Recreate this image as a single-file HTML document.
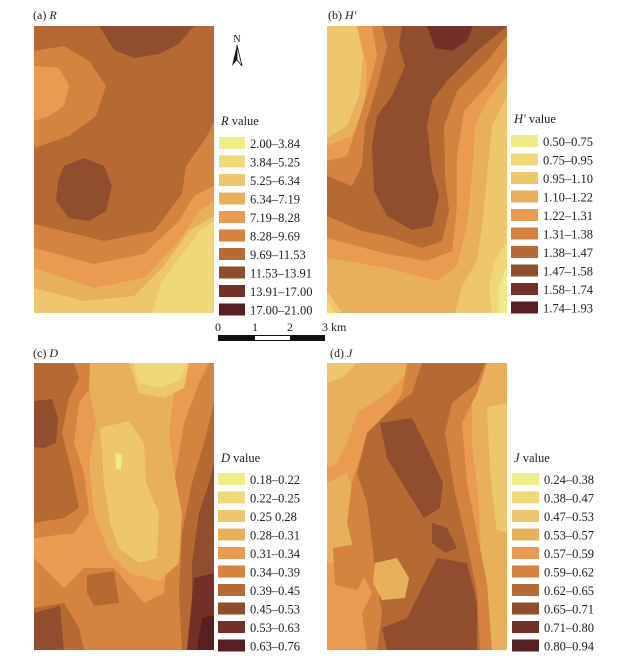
<!DOCTYPE html>
<html><head><meta charset="utf-8"><style>
html,body{margin:0;padding:0;background:#fff;}
svg{display:block;font-family:"Liberation Serif",serif;}
</style></head><body>
<svg width="635" height="661" viewBox="0 0 635 661" xmlns="http://www.w3.org/2000/svg">
<defs>
<clipPath id="cp"><rect x="0" y="0" width="180" height="287"/></clipPath>
</defs>
<g stroke-linejoin="round">
<!-- (a) -->
<g transform="translate(34,26)" clip-path="url(#cp)">
<rect width="180" height="287" fill="#b46a32"/>
<path fill="#d5843f" d="M0,25 L30,20 L55,35 L72,60 L62,90 L35,110 L0,122Z"/>
<path fill="#e99c50" d="M0,40 L25,42 L35,60 L30,80 L15,90 L0,95Z"/>
<path fill="#914e2e" d="M65,0 L160,0 L145,18 L125,28 L100,32 L80,24Z"/>
<path fill="#d5843f" d="M0,198 L70,215 L120,205 L148,168 L152,140 L172,112 L180,95 L180,287 L0,287Z"/>
<path fill="#e99c50" d="M0,222 L60,238 L110,228 L145,195 L160,170 L180,160 L180,287 L0,287Z"/>
<path fill="#e9b05c" d="M0,242 L60,262 L110,252 L145,215 L165,185 L180,175 L180,287 L0,287Z"/>
<path fill="#eec66c" d="M0,262 L50,275 L100,270 L130,240 L155,205 L180,190 L180,287 L0,287Z"/>
<path fill="#eed878" d="M118,287 L128,255 L148,228 L165,205 L180,195 L180,287Z"/>
<path fill="#914e2e" d="M30,140 L50,132 L70,140 L78,160 L72,185 L55,195 L35,192 L22,175 L24,155Z"/>
</g>
<!-- (b) -->
<g transform="translate(327,26)" clip-path="url(#cp)">
<rect width="180" height="287" fill="#e9b05c"/>
<path fill="#eec66c" d="M0,0 L30,0 L36,30 L32,70 L20,100 L0,112Z"/>
<path fill="#e99c50" d="M30,0 L180,0 L180,50 L160,75 L148,100 L145,150 L140,200 L130,240 L110,255 L60,242 L0,232 L0,120 L25,110 L38,80 L40,40Z"/>
<path fill="#d5843f" d="M45,0 L180,0 L180,30 L160,60 L137,85 L130,130 L130,180 L125,225 L100,235 L60,228 L0,212 L0,135 L20,130 L30,100 L42,60 L50,30Z"/>
<path fill="#b46a32" d="M55,0 L180,0 L180,10 L160,35 L130,65 L117,100 L118,150 L122,185 L115,215 L95,222 L60,210 L35,205 L0,190 L0,150 L25,160 L35,140 L38,100 L50,60 L60,20Z"/>
<path fill="#914e2e" d="M75,0 L180,0 L150,25 L120,55 L105,75 L100,100 L105,145 L112,170 L105,200 L85,204 L60,190 L47,165 L45,120 L50,90 L65,70 L78,40 L72,20Z"/>
<path fill="#723028" d="M100,0 L146,0 L140,15 L125,25 L108,22Z"/>
<path fill="#eec66c" d="M180,70 L165,100 L160,150 L155,200 L150,235 L135,260 L128,287 L180,287Z"/>
<path fill="#eec66c" d="M0,265 L15,287 L0,287Z"/>
<path fill="#eed878" d="M0,275 L8,287 L0,287Z"/>
<path fill="#eed878" d="M180,215 L168,235 L162,260 L165,287 L180,287Z"/>
<path fill="#eeec88" d="M180,240 L172,260 L172,287 L180,287Z"/>
</g>
<!-- (c) -->
<g transform="translate(34,363)" clip-path="url(#cp)">
<rect width="180" height="287" fill="#e99c50"/>
<path fill="#d5843f" d="M0,0 L60,0 L60,20 L45,40 L40,80 L50,110 L55,150 L40,170 L0,175Z"/>
<path fill="#b46a32" d="M0,0 L40,0 L45,15 L35,35 L28,70 L38,110 L45,145 L30,155 L0,160Z"/>
<path fill="#914e2e" d="M0,38 L18,36 L24,55 L22,80 L10,85 L0,84Z"/>
<path fill="#d5843f" d="M0,195 L30,225 L50,205 L80,205 L110,240 L130,230 L135,170 L140,120 L150,60 L165,20 L175,0 L180,0 L180,287 L0,287Z"/>
<path fill="#b46a32" d="M148,287 L145,230 L148,170 L158,120 L170,80 L180,40 L180,287Z M53,212 L80,208 L85,240 L60,243 L53,230Z M0,245 L30,240 L45,265 L50,287 L0,287Z"/>
<path fill="#914e2e" d="M0,250 L26,243 L30,287 L0,287Z M158,287 L158,200 L165,150 L175,120 L180,100 L180,287Z"/>
<path fill="#723028" d="M153,287 L160,215 L180,210 L180,287Z"/>
<path fill="#582022" d="M163,287 L168,255 L180,252 L180,287Z"/>
<path fill="#e9b05c" d="M56,0 L146,0 L140,30 L135,70 L140,110 L148,150 L145,200 L125,218 L95,210 L75,190 L60,150 L55,100 L62,60 L55,25Z"/>
<path fill="#eec66c" d="M66,65 L95,58 L110,80 L112,120 L125,150 L123,195 L105,200 L85,185 L76,160 L70,120 L68,90Z"/>
<path fill="#eec66c" d="M95,0 L155,0 L150,25 L130,35 L105,30Z"/>
<path fill="#eed878" d="M99,0 L153,0 L145,18 L125,25 L105,20Z"/>
<path fill="#eeec88" d="M81,90 L88,92 L87,107 L82,105Z"/>
</g>
<!-- (d) -->
<g transform="translate(327,363)" clip-path="url(#cp)">
<rect width="180" height="287" fill="#e99c50"/>
<path fill="#e9b05c" d="M0,0 L90,0 L60,30 L30,50 L20,80 L10,100 L0,105Z M0,120 L20,110 L30,140 L45,170 L60,200 L0,200Z"/>
<path fill="#eec66c" d="M0,0 L30,0 L15,15 L0,20Z"/>
<path fill="#e9b05c" d="M150,0 L180,0 L180,287 L160,287 L155,220 L152,140 L145,80 L145,40Z"/>
<path fill="#eec66c" d="M160,44 L180,40 L180,170 L170,167 L165,130 L162,90Z"/>
<path fill="#d5843f" d="M80,0 L160,0 L150,30 L135,60 L140,120 L150,170 L160,220 L165,287 L40,287 L35,250 L45,230 L30,200 L20,160 L25,120 L35,90 L55,60 L75,30Z"/>
<path fill="#b46a32" d="M95,0 L158,0 L150,20 L125,40 L118,70 L128,130 L140,180 L150,230 L153,287 L50,287 L55,250 L50,220 L45,180 L40,140 L30,110 L40,70 L65,45 L85,30Z"/>
<path fill="#914e2e" d="M53,60 L85,55 L100,85 L116,120 L113,145 L97,155 L75,120 L60,95Z M105,160 L120,165 L130,185 L118,190 L105,180Z M60,287 L55,265 L80,255 L95,225 L110,195 L140,200 L150,240 L150,287Z"/>
<path fill="#e9b05c" d="M48,200 L70,195 L82,215 L78,235 L55,237 L46,220Z"/>
<path fill="#d5843f" d="M6,185 L35,180 L40,210 L30,227 L8,222Z"/>
</g>
</g>
<g font-size="12" fill="#222">
<text x="33" y="19">(a) <tspan font-style="italic">R</tspan></text>
<text x="328" y="19">(b) <tspan font-style="italic">H′</tspan></text>
<text x="33" y="357">(c) <tspan font-style="italic">D</tspan></text>
<text x="330" y="357">(d) <tspan font-style="italic">J</tspan></text>
</g>
<text x="237" y="42" font-size="10" text-anchor="middle" fill="#222">N</text>
<path d="M237,45 L232,66 L237,60Z" fill="#111"/><path d="M237,45 L242,66 L237,60Z" fill="#fff" stroke="#111" stroke-width="0.8"/>
<g font-size="12" fill="#222">
<text x="218" y="331" text-anchor="middle">0</text>
<text x="255" y="331" text-anchor="middle">1</text>
<text x="290" y="331" text-anchor="middle">2</text>
<text x="322" y="331">3 km</text>
</g>
<rect x="218" y="335" width="107" height="6" fill="#111"/>
<rect x="255" y="336" width="35" height="4" fill="#fff"/>
<g font-size="12.5" fill="#222">
<text x="221" y="125"><tspan font-style="italic">R</tspan> value</text>
<text x="514" y="123"><tspan font-style="italic">H′</tspan> value</text>
<text x="221" y="462"><tspan font-style="italic">D</tspan> value</text>
<text x="514" y="462"><tspan font-style="italic">J</tspan> value</text>
</g>
<g font-size="12.5" fill="#222">
<rect x="219" y="137" width="26" height="12" fill="#eeec88"/><text x="250" y="148">2.00–3.84</text>
<rect x="219" y="155.5" width="26" height="12" fill="#eed878"/><text x="250" y="166.5">3.84–5.25</text>
<rect x="219" y="174" width="26" height="12" fill="#eec66c"/><text x="250" y="185">5.25–6.34</text>
<rect x="219" y="192.5" width="26" height="12" fill="#e9b05c"/><text x="250" y="203.5">6.34–7.19</text>
<rect x="219" y="211" width="26" height="12" fill="#e99c50"/><text x="250" y="222">7.19–8.28</text>
<rect x="219" y="229.5" width="26" height="12" fill="#d5843f"/><text x="250" y="240.5">8.28–9.69</text>
<rect x="219" y="248" width="26" height="12" fill="#b46a32"/><text x="250" y="259">9.69–11.53</text>
<rect x="219" y="266.5" width="26" height="12" fill="#914e2e"/><text x="250" y="277.5">11.53–13.91</text>
<rect x="219" y="285" width="26" height="12" fill="#723028"/><text x="250" y="296">13.91–17.00</text>
<rect x="219" y="303.5" width="26" height="12" fill="#582022"/><text x="250" y="314.5">17.00–21.00</text>
<rect x="511" y="135" width="27" height="12" fill="#eeec88"/><text x="543" y="146">0.50–0.75</text>
<rect x="511" y="153.5" width="27" height="12" fill="#eed878"/><text x="543" y="164.5">0.75–0.95</text>
<rect x="511" y="172" width="27" height="12" fill="#eec66c"/><text x="543" y="183">0.95–1.10</text>
<rect x="511" y="190.5" width="27" height="12" fill="#e9b05c"/><text x="543" y="201.5">1.10–1.22</text>
<rect x="511" y="209" width="27" height="12" fill="#e99c50"/><text x="543" y="220">1.22–1.31</text>
<rect x="511" y="227.5" width="27" height="12" fill="#d5843f"/><text x="543" y="238.5">1.31–1.38</text>
<rect x="511" y="246" width="27" height="12" fill="#b46a32"/><text x="543" y="257">1.38–1.47</text>
<rect x="511" y="264.5" width="27" height="12" fill="#914e2e"/><text x="543" y="275.5">1.47–1.58</text>
<rect x="511" y="283" width="27" height="12" fill="#723028"/><text x="543" y="294">1.58–1.74</text>
<rect x="511" y="301.5" width="27" height="12" fill="#582022"/><text x="543" y="312.5">1.74–1.93</text>
<rect x="218" y="473" width="27" height="12" fill="#eeec88"/><text x="250" y="484">0.18–0.22</text>
<rect x="218" y="491.5" width="27" height="12" fill="#eed878"/><text x="250" y="502.5">0.22–0.25</text>
<rect x="218" y="510" width="27" height="12" fill="#eec66c"/><text x="250" y="521">0.25  0.28</text>
<rect x="218" y="528.5" width="27" height="12" fill="#e9b05c"/><text x="250" y="539.5">0.28–0.31</text>
<rect x="218" y="547" width="27" height="12" fill="#e99c50"/><text x="250" y="558">0.31–0.34</text>
<rect x="218" y="565.5" width="27" height="12" fill="#d5843f"/><text x="250" y="576.5">0.34–0.39</text>
<rect x="218" y="584" width="27" height="12" fill="#b46a32"/><text x="250" y="595">0.39–0.45</text>
<rect x="218" y="602.5" width="27" height="12" fill="#914e2e"/><text x="250" y="613.5">0.45–0.53</text>
<rect x="218" y="621" width="27" height="12" fill="#723028"/><text x="250" y="632">0.53–0.63</text>
<rect x="218" y="639.5" width="27" height="12" fill="#582022"/><text x="250" y="650.5">0.63–0.76</text>
</g>
<svg x="0" y="0" width="595" height="661" overflow="hidden">
<g font-size="12.5" fill="#222">
<rect x="512" y="473" width="27" height="12" fill="#eeec88"/><text x="544" y="484">0.24–0.38</text>
<rect x="512" y="491.5" width="27" height="12" fill="#eed878"/><text x="544" y="502.5">0.38–0.47</text>
<rect x="512" y="510" width="27" height="12" fill="#eec66c"/><text x="544" y="521">0.47–0.53</text>
<rect x="512" y="528.5" width="27" height="12" fill="#e9b05c"/><text x="544" y="539.5">0.53–0.57</text>
<rect x="512" y="547" width="27" height="12" fill="#e99c50"/><text x="544" y="558">0.57–0.59</text>
<rect x="512" y="565.5" width="27" height="12" fill="#d5843f"/><text x="544" y="576.5">0.59–0.62</text>
<rect x="512" y="584" width="27" height="12" fill="#b46a32"/><text x="544" y="595">0.62–0.65</text>
<rect x="512" y="602.5" width="27" height="12" fill="#914e2e"/><text x="544" y="613.5">0.65–0.71</text>
<rect x="512" y="621" width="27" height="12" fill="#723028"/><text x="544" y="632">0.71–0.80</text>
<rect x="512" y="639.5" width="27" height="12" fill="#582022"/><text x="544" y="650.5">0.80–0.94</text>
</g>
</svg>
</svg>
</body></html>
